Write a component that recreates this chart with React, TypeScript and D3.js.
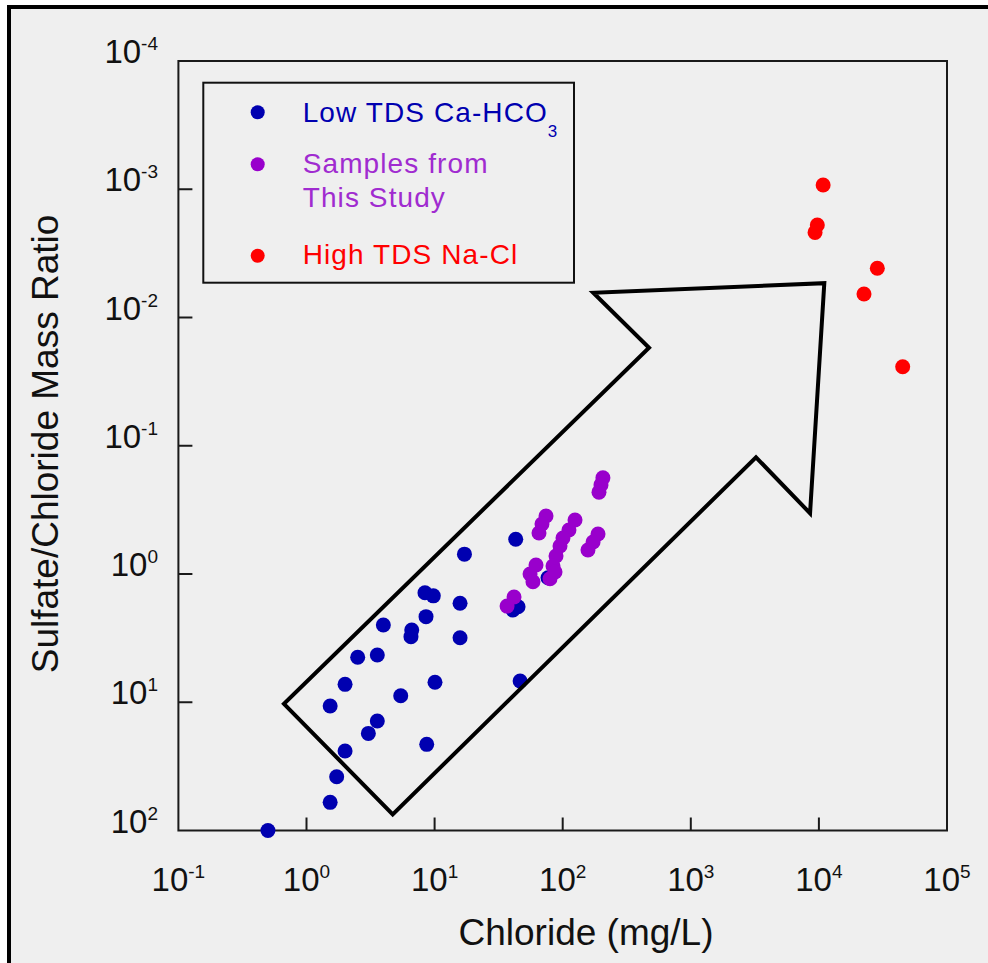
import React from "react";
import * as d3 from "d3";

// ---- data ----
const blueX = [0.5, 1.53, 1.72, 2.0, 3.04, 3.57, 8.68, 1.53, 2.0, 5.44, 10.07, 46.5, 2.51, 3.57, 3.98, 6.63, 6.54, 8.57, 15.8, 8.41, 9.77, 15.8, 17.1, 43.0, 44.8, 40.9, 76.8];
const blueY = [100, 60.3, 38.1, 24.0, 17.5, 14.0, 21.3, 10.7, 7.25, 8.9, 6.99, 6.83, 4.46, 4.28, 2.5, 2.73, 3.08, 2.15, 3.14, 1.4, 1.48, 1.69, 0.7, 0.536, 1.8, 1.91, 1.07];

const purpleX = [206, 199, 192, 74.1, 68.9, 65.3, 124.8, 111.9, 100.5, 188.7, 172.6, 157.5, 95.3, 88.7, 84.0, 61.9, 55.6, 58.6, 87.1, 79.6, 41.7, 36.8];
const purpleY = [0.178, 0.202, 0.23, 0.353, 0.407, 0.479, 0.379, 0.454, 0.524, 0.488, 0.563, 0.65, 0.605, 0.724, 0.867, 0.851, 1.0, 1.15, 0.965, 1.09, 1.51, 1.78];

const redX = [10790, 9720, 9330, 28580, 22490, 45100];
const redY = [0.000927, 0.0019, 0.00217, 0.00413, 0.00656, 0.0242];

// arrow annotation vertices in data units (chloride, ratio)
const arrowX = [0.667, 4.71, 3228, 8530, 11020, 173.3, 472];
const arrowY = [10.3, 74.8, 0.123, 0.336, 0.0054, 0.00641, 0.0172];

const xTickExp = [-1, 0, 1, 2, 3, 4, 5];
const yTickExp = [-4, -3, -2, -1, 0, 1, 2];

const legendItems = [
  { lines: ["Low TDS Ca-HCO"], sub: "3", color: "#0000b0", text: "#0000b0" },
  { lines: ["Samples from", "This Study"], sub: "", color: "#9900cc", text: "#a02bd0" },
  { lines: ["High TDS Na-Cl"], sub: "", color: "#ff0000", text: "#ff0000" },
];

const FONT = "'Liberation Sans', Arial, Helvetica, sans-serif";

export default function App() {
  const W = 988;
  const H = 963;
  const x = d3.scaleLog().domain([0.1, 1e5]).range([178.4, 947]);
  const y = d3.scaleLog().domain([1e-4, 1e2]).range([61, 830.5]);
  const x0 = x(0.1), x1 = x(1e5), y0 = y(1e-4), y1 = y(1e2);

  const arrowPts = arrowX.map((v, i) => [x(v), y(arrowY[i])] as [number, number]);
  const arrowPath = d3.line()(arrowPts) + "Z";

  const blue = blueX.map((v, i) => [v, blueY[i]]);
  const purple = purpleX.map((v, i) => [v, purpleY[i]]);
  const red = redX.map((v, i) => [v, redY[i]]);

  const legendMarkerX = 257.7;
  const legendMarkerY = [112.3, 164.3, 255.7];
  const legendBaselines = [[121.7], [172.7, 206.7], [264]];

  return (
    <svg width={W} height={H} style={{ position: "absolute", left: 0, top: 0, background: "#ffffff" }} fontFamily={FONT}>
      <rect x={9} y={7} width={1100} height={1100} fill="#efefef" stroke="#000" strokeWidth={4} />

      {/* frame */}
      <rect x={x0} y={y0} width={x1 - x0} height={y1 - y0} fill="none" stroke="#1a1a1a" strokeWidth={2} />

      {/* ticks */}
      {xTickExp.slice(1, -1).map((e) => (
        <line key={"xt" + e} x1={x(Math.pow(10, e))} x2={x(Math.pow(10, e))} y1={y1} y2={y1 - 13} stroke="#1a1a1a" strokeWidth={2} />
      ))}
      {yTickExp.slice(1, -1).map((e) => (
        <line key={"yt" + e} x1={x0} x2={x0 + 14} y1={y(Math.pow(10, e))} y2={y(Math.pow(10, e))} stroke="#1a1a1a" strokeWidth={2} />
      ))}

      {/* tick labels */}
      {xTickExp.map((e) => (
        <text key={"xl" + e} x={x(Math.pow(10, e))} y={891} textAnchor="middle" fontSize={33} fill="#111">
          10<tspan fontSize={19} dy={-13}>{String(e)}</tspan>
        </text>
      ))}
      {yTickExp.map((e) => (
        <text key={"yl" + e} x={158} y={y(Math.pow(10, e)) + 2} textAnchor="end" fontSize={33} fill="#111">
          10<tspan fontSize={19} dy={-13}>{String(e)}</tspan>
        </text>
      ))}

      {/* axis titles */}
      <text x={586} y={945} textAnchor="middle" fontSize={37} fill="#111">Chloride (mg/L)</text>
      <text transform="translate(58,444) rotate(-90)" textAnchor="middle" fontSize={37} fill="#111">Sulfate/Chloride Mass Ratio</text>

      {/* legend */}
      <rect x={203.3} y={82.7} width={370.7} height={200} fill="none" stroke="#111" strokeWidth={2} />
      {legendItems.map((it, i) => (
        <g key={"lg" + i}>
          <circle cx={legendMarkerX} cy={legendMarkerY[i]} r={7} fill={it.color} />
          {it.lines.map((ln, j) => (
            <text key={j} x={302.7} y={legendBaselines[i][j]} fontSize={28} letterSpacing={1.1} fill={it.text}>
              {ln}
              {it.sub && j === it.lines.length - 1 ? <tspan fontSize={17} dy={15}>{it.sub}</tspan> : null}
            </text>
          ))}
        </g>
      ))}

      {/* points */}
      {blue.map((d, i) => (
        <circle key={"b" + i} cx={x(d[0])} cy={y(d[1])} r={7.5} fill="#0000b0" />
      ))}
      {purple.map((d, i) => (
        <circle key={"p" + i} cx={x(d[0])} cy={y(d[1])} r={7.5} fill="#9900cc" />
      ))}
      {red.map((d, i) => (
        <circle key={"r" + i} cx={x(d[0])} cy={y(d[1])} r={7.5} fill="#ff0000" />
      ))}

      {/* arrow annotation */}
      <path d={arrowPath} fill="none" stroke="#000" strokeWidth={4} strokeLinejoin="miter" />
    </svg>
  );
}
